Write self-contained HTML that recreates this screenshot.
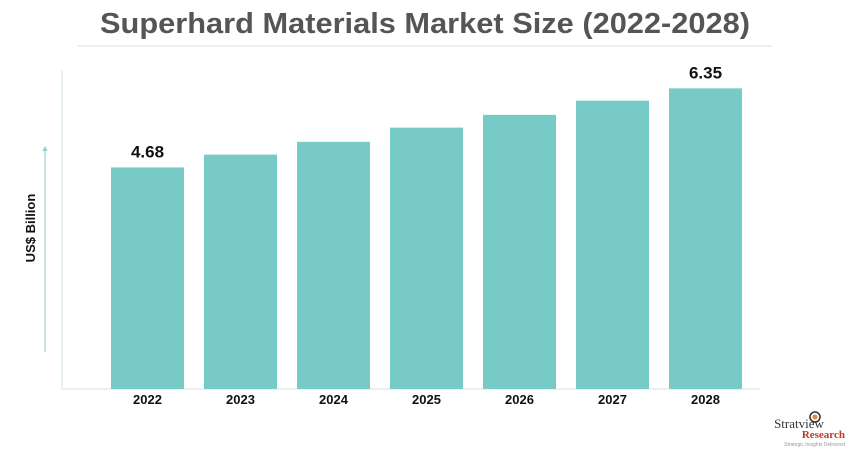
<!DOCTYPE html>
<html><head><meta charset="utf-8"><style>
body{margin:0;background:#fff;width:851px;height:450px;overflow:hidden;font-family:"Liberation Sans",sans-serif}
</style></head><body>
<svg width="851" height="450" xmlns="http://www.w3.org/2000/svg">
<text x="425" y="33" text-anchor="middle" font-size="29" font-weight="bold" fill="#555" textLength="650" lengthAdjust="spacingAndGlyphs">Superhard Materials Market Size (2022-2028)</text>
<line x1="78" y1="46" x2="772" y2="46" stroke="#ddd" stroke-width="1"/>
<line x1="62" y1="70" x2="62" y2="389" stroke="#e2eeee" stroke-width="1.5"/>
<line x1="62" y1="389" x2="760" y2="389" stroke="#e2eeee" stroke-width="1.5"/>
<line x1="45" y1="150" x2="45" y2="352" stroke="#8fcfcb" stroke-width="1"/>
<path d="M42.5,151 L45,146 L47.5,151 Z" fill="#8fcfcb"/>
<text transform="translate(35,228) rotate(-90)" text-anchor="middle" font-size="13" font-weight="bold" fill="#111">US$ Billion</text>
<g id="bars"></g>
<g>
<circle cx="815" cy="417" r="5" fill="none" stroke="#333" stroke-width="1.5"/>
<circle cx="815" cy="417" r="2.5" fill="#e8873a"/>
<text x="799" y="428" text-anchor="middle" font-family="Liberation Serif,serif" font-size="13" fill="#333">Stratview</text>
<text x="845" y="438" text-anchor="end" font-family="Liberation Serif,serif" font-size="11" font-weight="bold" fill="#c0392b">Research</text>
<text x="845" y="446" text-anchor="end" font-size="5" fill="#999">Strategic Insights Delivered</text>
</g>
</svg>
<script>
const categories=["2022","2023","2024","2025","2026","2027","2028"];
const values=[4.68,4.95,5.22,5.52,5.79,6.09,6.35];
const shownLabels=["4.68","","","","","","6.35"];
const NS="http://www.w3.org/2000/svg";
const baseY=389, pxPerUnit=47.35, x0=111, step=93, bw=73;
function yScale(v){return baseY-v*pxPerUnit;}
function xScale(i){return x0+i*step;}
const g=document.getElementById('bars');
categories.forEach((c,i)=>{
  const r=document.createElementNS(NS,'rect');
  r.setAttribute('x',xScale(i));r.setAttribute('y',yScale(values[i]));
  r.setAttribute('width',bw);r.setAttribute('height',baseY-yScale(values[i]));
  r.setAttribute('fill','#77cac5');
  
  
  g.appendChild(r);
  const t=document.createElementNS(NS,'text');
  t.setAttribute('x',xScale(i)+bw/2);t.setAttribute('y',404);
  t.setAttribute('text-anchor','middle');t.setAttribute('font-size','13');
  t.setAttribute('font-weight','bold');t.setAttribute('fill','#111');
  t.textContent=c;
  
  
  g.appendChild(t);
  if(shownLabels[i]){
    const l=document.createElementNS(NS,'text');
    l.setAttribute('x',xScale(i)+bw/2);l.setAttribute('y',yScale(values[i])-10);
    l.setAttribute('text-anchor','middle');l.setAttribute('font-size','17');
    l.setAttribute('font-weight','bold');l.setAttribute('fill','#111');
    l.textContent=shownLabels[i];
    
    
    g.appendChild(l);
  }
});
</script>
</body></html>
